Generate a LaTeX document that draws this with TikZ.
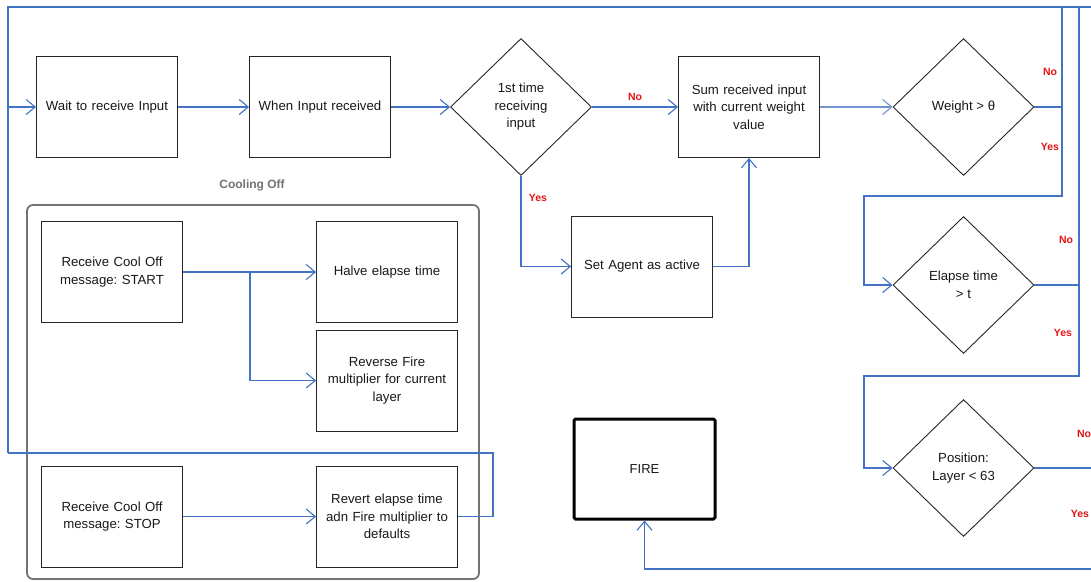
\documentclass[tikz,border=0pt]{standalone}
\usepackage{fontspec}
\setmainfont{Liberation Sans}
\frenchspacing
\usetikzlibrary{shapes.geometric,arrows.meta}
\definecolor{linkblue}{RGB}{68,114,196}
\definecolor{labelred}{RGB}{225,20,20}
\definecolor{textdark}{RGB}{25,25,25}
\tikzset{
  stepbox/.style={draw=black!85, line width=0.9pt, minimum width=141pt, minimum height=101pt,
    inner sep=2pt, align=center, text width=136pt, text=textdark,
    font=\fontsize{13.2}{17.5}\selectfont},
  decision/.style={diamond, draw=black!85, line width=0.9pt, minimum width=141pt, minimum height=137pt,
    inner sep=0pt, align=center, text=textdark, font=\fontsize{13.2}{17.5}\selectfont},
  firebox/.style={draw=black, line width=3pt, rounded corners=1.5pt, minimum width=141pt, minimum height=100pt,
    text=textdark, font=\fontsize{13}{15}\selectfont},
  link/.style={draw=linkblue, line width=1.1pt},
  flow/.style={link, -{Straight Barb[length=9pt,width=15pt,line width=1.1pt]}},
  answer/.style={text=labelred, font=\fontsize{10.5}{12}\selectfont\bfseries},
  groupbox/.style={draw=black!55, line width=1.8pt, rounded corners=6pt},
  grouplabel/.style={text=black!55, font=\fontsize{12}{14}\selectfont\bfseries}
}
\begin{document}
\begin{tikzpicture}[x=1pt,y=-1pt]
\useasboundingbox (0,0) rectangle (1091,581);
\clip (0,0) rectangle (1091,581);
\fill[white] (0,0) rectangle (1091,581);

% main row
\node[stepbox] (wait) at (107,107) {Wait to receive Input};
\node[stepbox] (when) at (320,107) {When Input received};
\node[decision] (first) at (521,107) {1st time\\receiving\\input};
\node[stepbox] (sum) at (749,107) {Sum received input\\with current weight\\value};
\node[stepbox] (agent) at (642,266.5) {Set Agent as active};

% threshold checks
\node[decision] (weight) at (963.5,107) {Weight > θ};
\node[decision] (elapse) at (963.5,285) {Elapse time\\> t};
\node[decision] (layer) at (963.5,468) {Position:\\Layer < 63};
\node[firebox] (fire) at (644.5,469) {FIRE};

% cooling off group
\draw[groupbox] (27,205) rectangle (479,579);
\node[grouplabel] (coollabel) at (252,185) {Cooling Off};
\node[stepbox] (start) at (112,272) {Receive Cool Off\\message: START};
\node[stepbox] (halve) at (387,272) {Halve elapse time};
\node[stepbox] (reverse) at (387,380.5) {Reverse Fire\\multiplier for current\\layer};
\node[stepbox] (stop) at (112,516.5) {Receive Cool Off\\message: STOP};
\node[stepbox] (revert) at (387,516.5) {Revert elapse time\\adn Fire multiplier to\\defaults};

% routing points
\coordinate (topleft) at (8,7);
\coordinate (inleft) at (8,107);
\coordinate (loopleft) at (8,453);
\coordinate (topright) at (1091,7);
\coordinate (wjoin) at (1062,107);
\coordinate (ejoin) at (1079,285);
\coordinate (ljoin) at (1091,468);
\coordinate (bottomright) at (1091,569);

% main flow
\draw[flow] (wait.east) -- (when.west);
\draw[flow] (when.east) -- (first.west);
\draw[flow] (first.east) -- node[answer, above=3pt] {No} (sum.west);
\draw[flow] (first.south) |- (agent.west);
\node[answer] at (538,198) {Yes};
\draw[flow] (agent.east) -| (sum.south);
\draw[flow, draw=linkblue!75, line width=2pt] (sum.east) -- (weight.west);

% weight check
\draw[link] (weight.east) -- (wjoin);
\draw[link] (wjoin) -- (1062,7);
\draw[flow] (wjoin) -- (1062,196) -- (864,196) |- (elapse.west);
\node[answer] at (1050,72) {No};
\node[answer] at (1050,147) {Yes};

% elapse check
\draw[link] (elapse.east) -- (ejoin);
\draw[link] (1079,7) -- (ejoin);
\draw[flow] (ejoin) -- (1079,376) -- (864,376) |- (layer.west);
\node[answer] at (1066,240) {No};
\node[answer] at (1063,333) {Yes};

% layer check
\draw[link] (layer.east) -- (ljoin);
\node[answer] at (1084,434) {No};
\node[answer] at (1080,514) {Yes};
\draw[flow] (bottomright) -| (fire.south);

% return loop
\draw[link] (topright) -- (topleft) -- (loopleft);
\draw[flow] (inleft) -- (wait.west);
\draw[link] (revert.east) -- (493,516.5) -- (493,453) -- (loopleft);

% cooling off flow
\draw[flow] (start.east) -- (halve.west);
\draw[flow] (250,272) |- (reverse.west);
\draw[flow] (stop.east) -- (revert.west);
\end{tikzpicture}
\end{document}
